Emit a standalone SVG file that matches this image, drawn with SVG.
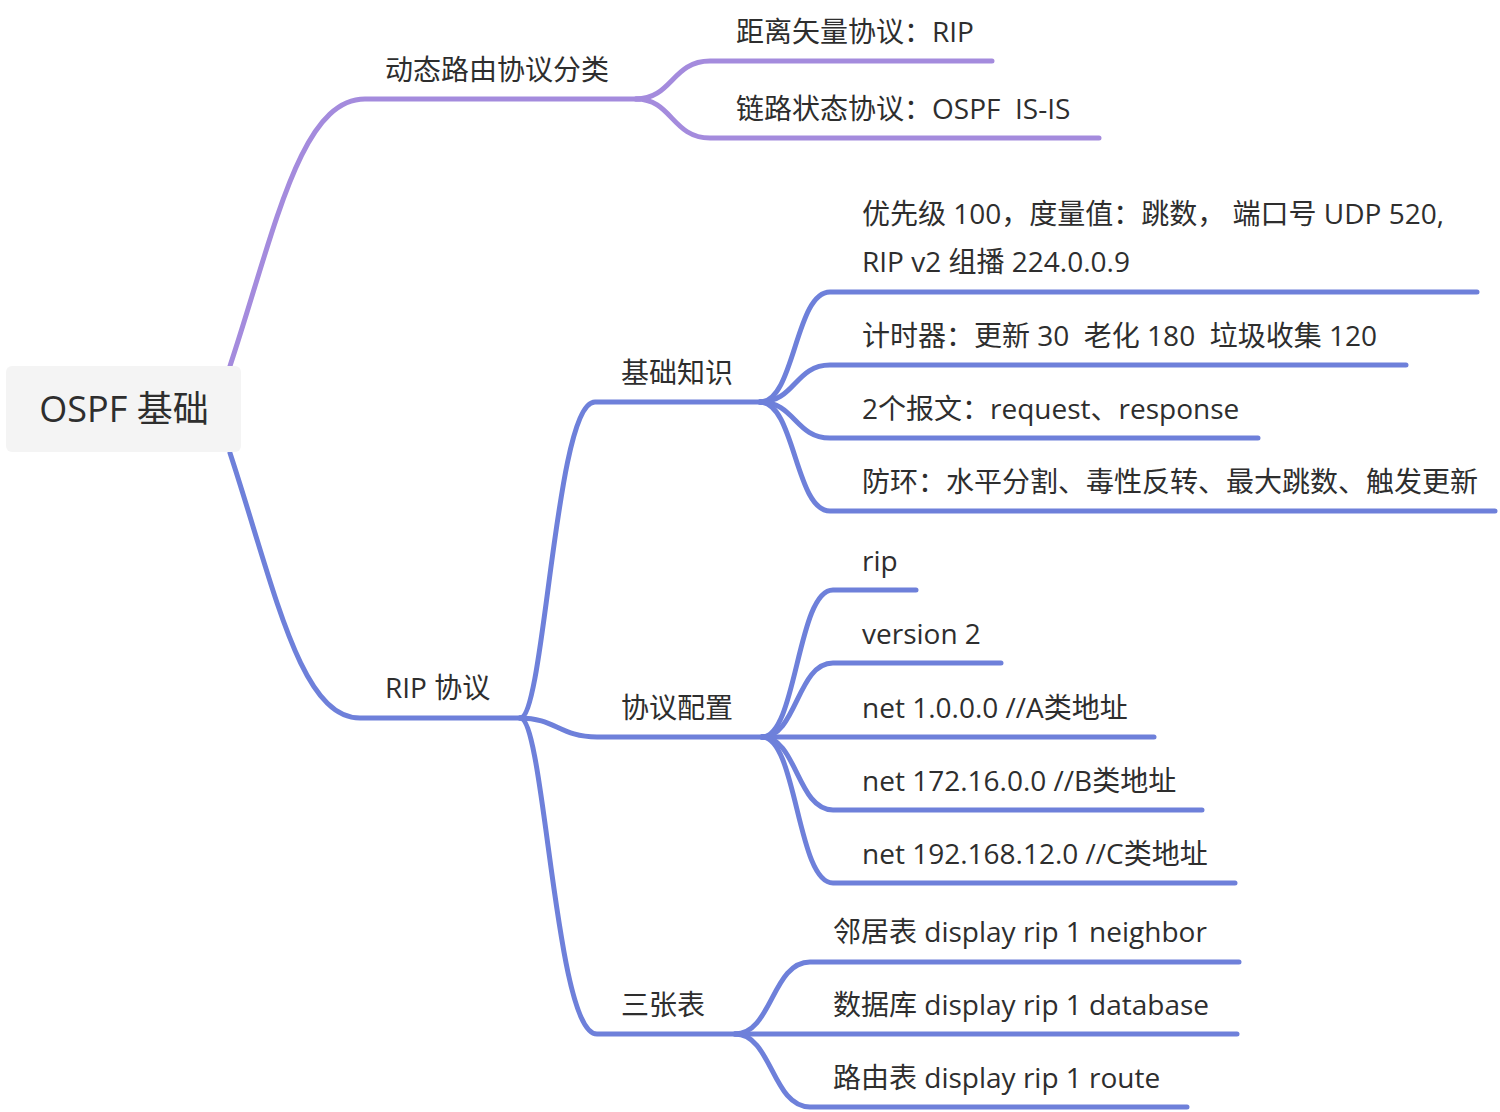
<svg xmlns="http://www.w3.org/2000/svg" width="1500" height="1112" viewBox="0 0 1500 1112">
<style>
text{font-family:"Open Sans","Noto Sans CJK SC",sans-serif;font-size:28px;fill:#2e2e2e;white-space:pre}
.root{font-size:36px}
.p{fill:none;stroke:#A48BDD;stroke-width:5;stroke-linecap:round}
.b{fill:none;stroke:#6E80DA;stroke-width:5;stroke-linecap:round}
</style>
<rect width="1500" height="1112" fill="#ffffff"/>
<g id="connectors">
<path class="p" d="M230,366 C275,230 300,99 365,99 L640,99"/>
<path class="p" d="M636,99 C672,99 672,61 710,61 L992,61"/>
<path class="p" d="M636,99 C672,99 672,138 710,138 L1099,138"/>
<path class="b" d="M230,453 C275,590 300,718 360,718 L522,718"/>
<path class="b" d="M520,718 C545,718 555,402 595,402 L762,402"/>
<path class="b" d="M520,718 C555,718 560,737 597,737 L763,737"/>
<path class="b" d="M520,718 C545,718 555,1034 597,1034 L737,1034"/>
<path class="b" d="M760,402 C795,402 795,292 830,292 L1477,292"/>
<path class="b" d="M760,402 C795,402 795,365 830,365 L1406,365"/>
<path class="b" d="M760,402 C795,402 795,438 830,438 L1258,438"/>
<path class="b" d="M760,402 C795,402 795,511 830,511 L1495,511"/>
<path class="b" d="M762,737 C797,737 797,590 833,590 L916,590"/>
<path class="b" d="M762,737 C797,737 797,663 833,663 L1001,663"/>
<path class="b" d="M762,737 L1154,737"/>
<path class="b" d="M762,737 C797,737 797,810 833,810 L1202,810"/>
<path class="b" d="M762,737 C797,737 797,883 833,883 L1235,883"/>
<path class="b" d="M735,1034 C772,1034 772,962 810,962 L1239,962"/>
<path class="b" d="M735,1034 L1237,1034"/>
<path class="b" d="M735,1034 C772,1034 772,1107 810,1107 L1187,1107"/>
</g>
<g id="root">
<rect x="6" y="366" width="235" height="86" rx="6" fill="#F4F4F4"/>
<text class="root" x="124" y="422" text-anchor="middle">OSPF 基础</text>
</g>
<g id="n-dyn"><text x="385" y="80">动态路由协议分类</text></g>
<g id="n-dv"><text x="736" y="42">距离矢量协议：RIP</text></g>
<g id="n-ls"><text x="736" y="119">链路状态协议：OSPF  IS-IS</text></g>
<g id="n-rip"><text x="385" y="698">RIP 协议</text></g>
<g id="n-basic"><text x="621" y="383">基础知识</text></g>
<g id="n-b1"><text x="862" y="224">优先级 100，度量值：跳数， 端口号 UDP 520,</text><text x="862" y="272">RIP v2 组播 224.0.0.9</text></g>
<g id="n-b2"><text x="862" y="346">计时器：更新 30  老化 180  垃圾收集 120</text></g>
<g id="n-b3"><text x="862" y="419">2个报文：request、response</text></g>
<g id="n-b4"><text x="862" y="492">防环：水平分割、毒性反转、最大跳数、触发更新</text></g>
<g id="n-cfg"><text x="621" y="718">协议配置</text></g>
<g id="n-c1"><text x="862" y="571">rip</text></g>
<g id="n-c2"><text x="862" y="644">version 2</text></g>
<g id="n-c3"><text x="862" y="718">net 1.0.0.0 //A类地址</text></g>
<g id="n-c4"><text x="862" y="791">net 172.16.0.0 //B类地址</text></g>
<g id="n-c5"><text x="862" y="864">net 192.168.12.0 //C类地址</text></g>
<g id="n-tables"><text x="621" y="1015">三张表</text></g>
<g id="n-t1"><text x="833" y="942">邻居表 display rip 1 neighbor</text></g>
<g id="n-t2"><text x="833" y="1015">数据库 display rip 1 database</text></g>
<g id="n-t3"><text x="833" y="1088">路由表 display rip 1 route</text></g>
</svg>
